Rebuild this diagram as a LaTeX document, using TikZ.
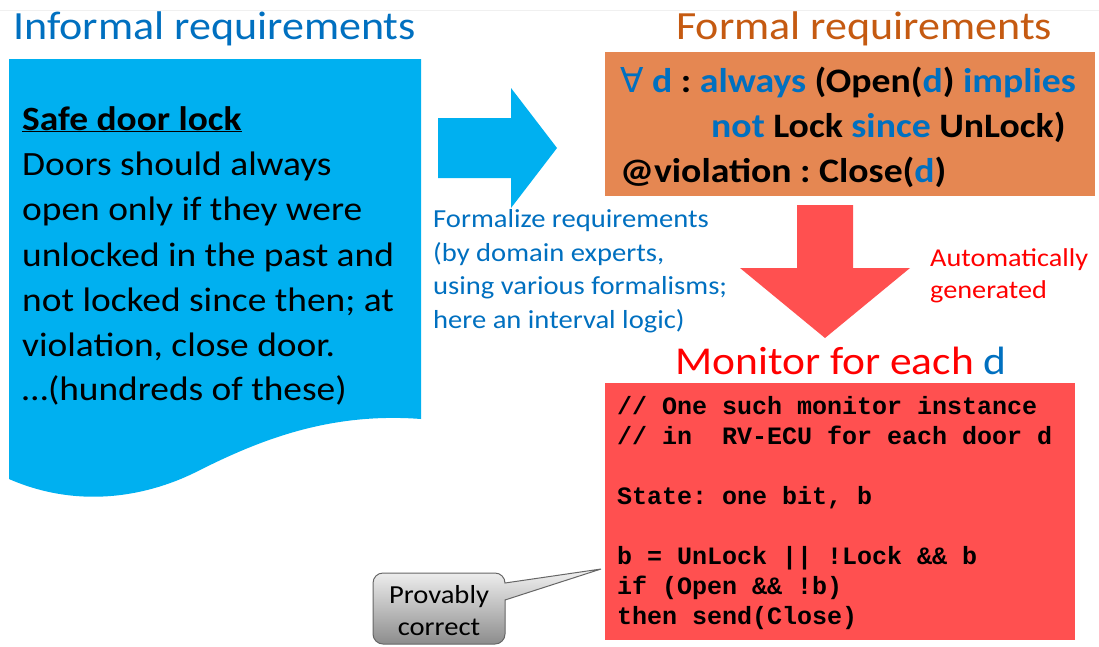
\documentclass[tikz,border=0pt]{standalone}
\usepackage{fontspec}
\setmainfont{Carlito}[FakeStretch=1.1]
\newfontfamily\codefont{Liberation Mono}
\newfontfamily\symfont{DejaVu Sans}
\frenchspacing
\definecolor{skyblue}{RGB}{0,176,240}
\definecolor{titleblue}{RGB}{0,112,192}
\definecolor{burnt}{RGB}{197,90,17}
\definecolor{formalbg}{RGB}{229,135,82}
\definecolor{monred}{RGB}{255,80,80}
\definecolor{pure}{RGB}{255,0,0}
\tikzset{
  title/.style={anchor=base west, inner sep=0pt, font=\fontsize{40}{48}\selectfont},
  prose/.style={anchor=base west, inner sep=0pt, font=\fontsize{34}{45}\selectfont},
  formal/.style={anchor=base west, inner sep=0pt, font=\fontsize{34.3}{45}\selectfont\bfseries},
  caption/.style={anchor=base west, inner sep=0pt, text=titleblue, font=\fontsize{26}{32}\selectfont},
  note/.style={anchor=base west, inner sep=0pt, text=pure, font=\fontsize{25.7}{32}\selectfont},
  code/.style={anchor=base west, inner sep=0pt, font=\fontsize{25}{30}\selectfont\codefont\bfseries},
  callout/.style={draw=black!60, line width=1, top color=black!5, bottom color=black!45},
}
\newcommand{\kw}[1]{\textcolor{titleblue}{#1}}
\begin{document}
\begin{tikzpicture}[x=1pt,y=-1pt]
\useasboundingbox (0,0) rectangle (1099,646);
\fill[white] (0,0) rectangle (1099,646);
\draw[black!6, line width=0.8] (0,10) -- (1099,10);

% informal requirement sheet
\fill[skyblue] (9,59) -- (421,59) -- (421,419)
  .. controls (330,412) and (260,440) .. (200,470)
  .. controls (150,496) and (80,510) .. (9,479) -- cycle;
\node[title, text=titleblue] (t1) at (13,39) {Informal requirements};
\node[prose] (p0) at (22,130) {\bfseries\underline{Safe door lock}};
\node[prose] (p1) at (22,175) {Doors should always};
\node[prose] (p2) at (22,220) {open only if they were};
\node[prose] (p3) at (22,266) {unlocked in the past and};
\node[prose] (p4) at (22,311) {not locked since then; at};
\node[prose] (p5) at (22,356) {violation, close door.};
\node[prose] (p6) at (22,400) {\dots(hundreds of these)};

% formalization arrow
\fill[skyblue] (438,118) -- (511,118) -- (511,88) -- (557,148)
  -- (511,208) -- (511,178) -- (438,178) -- cycle;
\node[caption] (c1) at (433,227) {Formalize requirements};
\node[caption] (c2) at (433,261) {(by domain experts,};
\node[caption] (c3) at (433,294) {using various formalisms;};
\node[caption] (c4) at (433,328) {here an interval logic)};

% formal requirement
\node[title, text=burnt] (t2) at (676,39) {Formal requirements};
\fill[formalbg] (605,52) rectangle (1095,196);
\node[formal] (f1) at (620,92) {\kw{{\symfont\mdseries ∀} d} : \kw{always} (Open(\kw{d}) \kw{implies}};
\node[formal] (f2) at (711,137) {\kw{not} Lock \kw{since} UnLock)};
\node[formal] (f3) at (620,182) {@violation : Close(\kw{d})};

% generation arrow
\fill[monred] (797,205) -- (853,205) -- (853,268) -- (910,268)
  -- (825,338) -- (740,268) -- (797,268) -- cycle;
\node[note] (n1) at (930,266) {Automatically};
\node[note] (n2) at (930,298) {generated};

% monitor
\node[title, text=pure, font=\fontsize{39.5}{48}\selectfont] (t3) at (675,374) {Monitor for each \kw{d}};
\fill[monred] (605,383) rectangle (1075,640);
\node[code] (k1) at (617,414) {// One such monitor instance};
\node[code] (k2) at (617,444) {// in~~RV-ECU for each door d};
\node[code] (k3) at (617,504) {State: one bit, b};
\node[code] (k4) at (617,564) {b = UnLock || !Lock \&\& b};
\node[code] (k5) at (617,594) {if (Open \&\& !b)};
\node[code] (k6) at (617,624) {then send(Close)};

% callout
\draw[callout]
  (373,590) [rounded corners=10] -- (373,573) -- (505,573) [sharp corners] -- (505,583)
  -- (601,569) -- (505,600) [rounded corners=10] -- (505,644) -- (373,644) [sharp corners] -- cycle;
\node[anchor=base, inner sep=0pt, font=\fontsize{26}{32}\selectfont] (b1) at (439,603) {Provably};
\node[anchor=base, inner sep=0pt, font=\fontsize{26}{32}\selectfont] (b2) at (439,635) {correct};
\end{tikzpicture}
\end{document}
